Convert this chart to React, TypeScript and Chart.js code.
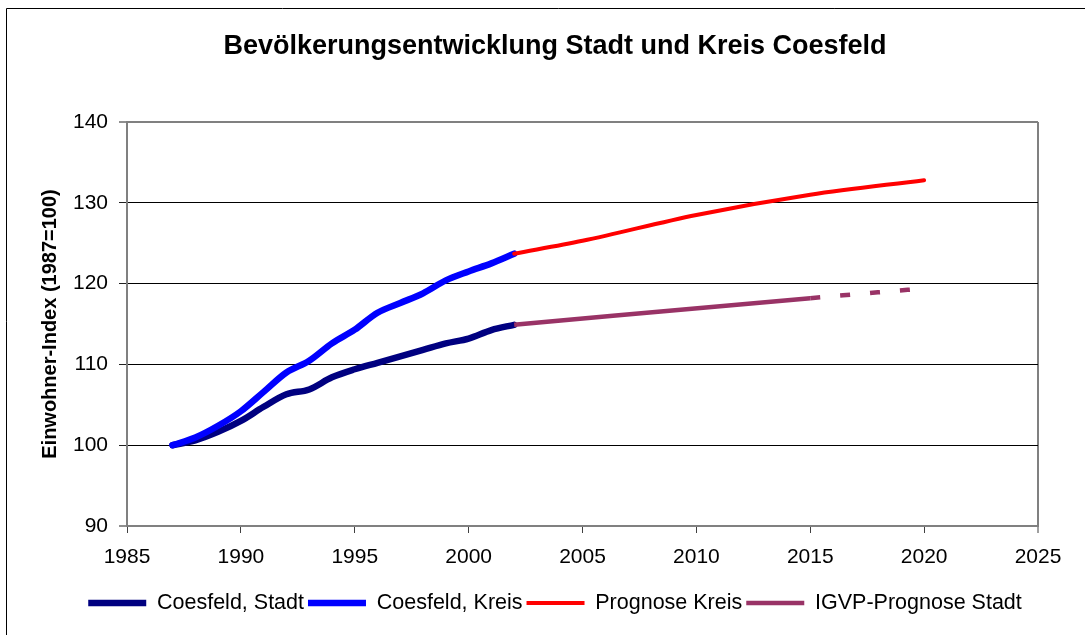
import React, { useEffect, useRef } from "react";
import { Chart, registerables } from "chart.js";

Chart.register(...registerables);

const FONT = '"Liberation Sans", Arial, Helvetica, sans-serif';

const chartTitle = "Bevölkerungsentwicklung Stadt und Kreis Coesfeld";
const yAxisTitle = "Einwohner-Index (1987=100)";

const seriesLabels = ["Coesfeld, Stadt", "Coesfeld, Kreis", "Prognose Kreis", "IGVP-Prognose Stadt"];
const seriesColors = ["#000080", "#0000FF", "#FF0000", "#993366"];

const historyYears = [1987, 1988, 1989, 1990, 1991, 1992, 1993, 1994, 1995, 1996, 1997, 1998, 1999, 2000, 2001, 2002];
const stadtValues = [100.0, 100.6, 101.65, 103.0, 104.75, 106.3, 106.9, 108.4, 109.4, 110.2, 111.0, 111.8, 112.6, 113.2, 114.25, 114.9];
const kreisValues = [100.0, 100.95, 102.4, 104.2, 106.6, 109.0, 110.45, 112.6, 114.3, 116.4, 117.6, 118.8, 120.4, 121.5, 122.5, 123.7];

const prognoseKreisYears = [2002, 2005, 2010, 2015, 2020];
const prognoseKreisValues = [123.7, 125.3, 128.5, 131.0, 132.8];

const igvpYears = [2002, 2015, 2020];
const igvpValues = [114.9, 118.2, 119.4];
const igvpDashedFrom = 2015;

const xTicks = [1985, 1990, 1995, 2000, 2005, 2010, 2015, 2020, 2025];
const yTicks = [90, 100, 110, 120, 130, 140];

const CANVAS_W = 1110;
const CANVAS_H = 635;

const toPoints = (xs: number[], ys: number[]) => xs.map((x, i) => ({ x, y: ys[i] }));

const framePlugin = {
  id: "outerFrame",
  beforeDraw(chart: any) {
    const ctx = chart.ctx;
    ctx.save();
    ctx.fillStyle = "#ffffff";
    ctx.fillRect(0, 0, chart.width, chart.height);
    ctx.strokeStyle = "#000000";
    ctx.lineWidth = 1;
    ctx.beginPath();
    ctx.moveTo(6.5, chart.height);
    ctx.lineTo(6.5, 8.5);
    ctx.lineTo(chart.width, 8.5);
    ctx.stroke();
    ctx.restore();
  },
};

export default function App() {
  const canvasRef = useRef<HTMLCanvasElement | null>(null);

  useEffect(() => {
    if (!canvasRef.current) return;
    const common = {
      pointRadius: 0,
      pointHoverRadius: 0,
      pointStyle: "line",
      fill: false,
      cubicInterpolationMode: "monotone",
      borderJoinStyle: "round",
    };
    const chart = new Chart(canvasRef.current, {
      type: "line",
      data: {
        datasets: [
          {
            ...common,
            label: seriesLabels[0],
            data: toPoints(historyYears, stadtValues),
            borderColor: seriesColors[0],
            backgroundColor: seriesColors[0],
            borderWidth: 6.5,
            borderCapStyle: "round",
            order: 4,
          },
          {
            ...common,
            label: seriesLabels[1],
            data: toPoints(historyYears, kreisValues),
            borderColor: seriesColors[1],
            backgroundColor: seriesColors[1],
            borderWidth: 6.5,
            borderCapStyle: "round",
            order: 3,
          },
          {
            ...common,
            label: seriesLabels[2],
            data: toPoints(prognoseKreisYears, prognoseKreisValues),
            borderColor: seriesColors[2],
            backgroundColor: seriesColors[2],
            borderWidth: 4,
            borderCapStyle: "round",
            order: 2,
          },
          {
            ...common,
            label: seriesLabels[3],
            data: toPoints(igvpYears, igvpValues),
            borderColor: seriesColors[3],
            backgroundColor: seriesColors[3],
            borderWidth: 4.5,
            borderCapStyle: "butt",
            order: 1,
            segment: {
              borderDash: (ctx: any) => (ctx.p0.parsed.x >= igvpDashedFrom ? [10, 20] : undefined),
            },
          },
        ] as any,
      },
      options: {
        responsive: false,
        animation: false,
        devicePixelRatio: 1,
        layout: { padding: { left: 0, right: 0, top: 0, bottom: 11.25 } },
        plugins: {
          tooltip: { enabled: false },
          title: {
            display: true,
            text: chartTitle,
            color: "#000000",
            font: { family: FONT, size: 27, weight: "bold" },
            padding: { top: 30, bottom: 59.6 },
          },
          legend: {
            display: true,
            position: "bottom",
            labels: {
              usePointStyle: true,
              pointStyleWidth: 58,
              color: "#000000",
              font: { family: FONT, size: 21.5 },
              padding: 4,
              sort: (a: any, b: any) => a.datasetIndex - b.datasetIndex,
            },
          },
        },
        scales: {
          x: {
            type: "linear",
            position: "bottom",
            min: 1985,
            max: 2025,
            afterBuildTicks: (s: any) => {
              s.ticks = xTicks.map((v) => ({ value: v }));
            },
            afterFit: (s: any) => {
              s.height = 62.25;
            },
            ticks: {
              autoSkip: false,
              maxRotation: 0,
              color: "#000000",
              font: { family: FONT, size: 21 },
              padding: 12,
              callback: (v: any) => String(v),
            },
            grid: {
              color: (c: any) => (c.tick && c.tick.value === 2025 ? "#808080" : "rgba(0,0,0,0)"),
              lineWidth: (c: any) => (c.tick && c.tick.value === 2025 ? 2 : 1),
              tickColor: "#404040",
              tickWidth: 1,
              tickLength: 7,
            },
            border: { display: true, color: "#808080", width: 2 },
          },
          y: {
            type: "linear",
            position: "left",
            min: 90,
            max: 140,
            afterBuildTicks: (s: any) => {
              s.ticks = yTicks.map((v) => ({ value: v }));
            },
            afterFit: (s: any) => {
              s.width = 127;
            },
            ticks: {
              color: "#000000",
              font: { family: FONT, size: 21 },
              padding: 11,
            },
            grid: {
              color: (c: any) =>
                c.tick && (c.tick.value === 140 || c.tick.value === 90) ? "#808080" : "#000000",
              lineWidth: (c: any) => (c.tick && (c.tick.value === 140 || c.tick.value === 90) ? 2 : 1),
              tickColor: "#202020",
              tickWidth: 1,
              tickLength: 8,
            },
            border: { display: true, color: "#808080", width: 2 },
            title: {
              display: true,
              text: yAxisTitle,
              color: "#000000",
              font: { family: FONT, size: 20, weight: "bold" },
              padding: { top: 38, bottom: 0 },
            },
          },
          yRight: {
            type: "linear",
            position: "right",
            display: true,
            min: 90,
            max: 140,
            afterFit: (s: any) => {
              s.width = CANVAS_W - 1038;
            },
            ticks: { display: false },
            grid: { display: false, drawOnChartArea: false, drawTicks: false },
            border: { display: false },
          },
        },
      } as any,
      plugins: [framePlugin],
    });
    return () => chart.destroy();
  }, []);

  return (
    <div
      style={{
        position: "fixed",
        left: 0,
        top: 0,
        width: 1085,
        height: CANVAS_H,
        overflow: "hidden",
        background: "#ffffff",
      }}
    >
      <canvas
        ref={canvasRef}
        width={CANVAS_W}
        height={CANVAS_H}
        style={{ display: "block", width: CANVAS_W, height: CANVAS_H }}
      />
    </div>
  );
}
